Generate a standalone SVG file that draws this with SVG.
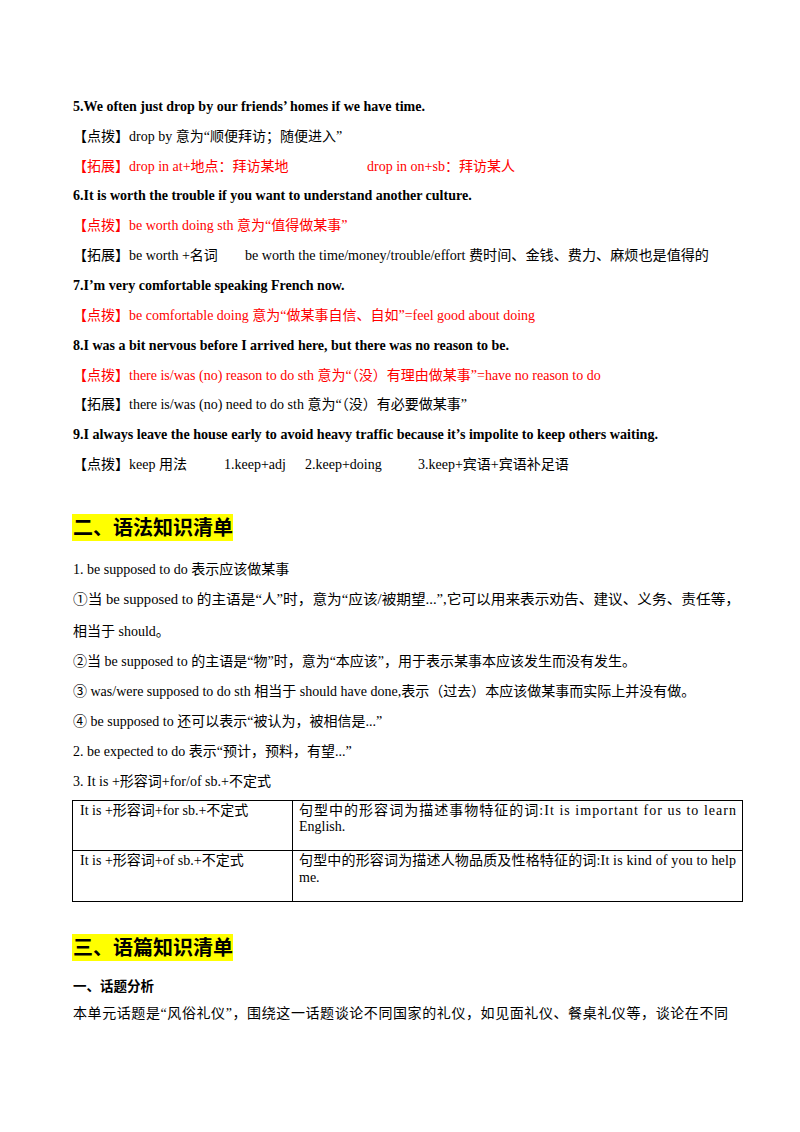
<svg xmlns="http://www.w3.org/2000/svg" width="800" height="1132" viewBox="0 0 800 1132">
<style>
text{font-family:"Liberation Serif","Noto Sans CJK SC",serif;font-size:14px;fill:#000}
.b{font-weight:bold}
.r{fill:#f00}
.h{font-size:20px;font-weight:bold;font-family:"Noto Sans CJK SC",sans-serif}
.hb{fill:#ff0}
.ln{stroke:#000;stroke-width:1;fill:none}
</style>
<rect width="800" height="1132" fill="#fff"/>
<text class="b" x="73" y="111">5.We often just drop by our friends’ homes if we have time.</text>
<text x="73" y="141">【点拨】drop by  意为“顺便拜访；随便进入”</text>
<text class="r" x="73" y="171">【拓展】drop in at+地点：拜访某地</text>
<text class="r" x="367" y="171">drop in on+sb：拜访某人</text>
<text class="b" x="73" y="200">6.It is worth the trouble if you want to understand another culture.</text>
<text class="r" x="73" y="230">【点拨】be worth doing sth 意为“值得做某事”</text>
<text x="73" y="260">【拓展】be worth +名词</text>
<text x="245" y="260" textLength="464" lengthAdjust="spacingAndGlyphs">be worth the time/money/trouble/effort 费时间、金钱、费力、麻烦也是值得的</text>
<text class="b" x="73" y="290">7.I’m very comfortable speaking French now.</text>
<text class="r" x="73" y="320">【点拨】be comfortable doing 意为“做某事自信、自如”=feel good about doing</text>
<text class="b" x="73" y="350">8.I was a bit nervous before I arrived here, but there was no reason to be.</text>
<text class="r" x="73" y="380">【点拨】there is/was (no) reason to do sth 意为“（没）有理由做某事”=have no reason to do</text>
<text x="73" y="409">【拓展】there is/was (no) need to do sth 意为“（没）有必要做某事”</text>
<text class="b" x="73" y="439" textLength="585" lengthAdjust="spacingAndGlyphs">9.I always leave the house early to avoid heavy traffic because it’s impolite to keep others waiting.</text>
<text x="73" y="469">【点拨】keep 用法</text>
<text x="224" y="469">1.keep+adj</text>
<text x="305" y="469">2.keep+doing</text>
<text x="418" y="469">3.keep+宾语+宾语补足语</text>
<g id="heading2"><rect class="hb" x="72" y="514" width="161" height="27"/><text class="h" x="73" y="535">二、语法知识清单</text></g>
<text x="73" y="574">1.  be supposed to do 表示应该做某事</text>
<text x="73" y="604" textLength="667" lengthAdjust="spacingAndGlyphs">①当 be supposed to 的主语是“人”时，意为“应该/被期望...”,它可以用来表示劝告、建议、义务、责任等，</text>
<text x="73" y="636">相当于 should。</text>
<text x="73" y="666">②当 be supposed to 的主语是“物”时，意为“本应该”，用于表示某事本应该发生而没有发生。</text>
<text x="73" y="696">③ was/were supposed to do sth 相当于 should have done,表示（过去）本应该做某事而实际上并没有做。</text>
<text x="73" y="726">④ be supposed to  还可以表示“被认为，被相信是...”</text>
<text x="73" y="756">2.  be expected to do 表示“预计，预料，有望...”</text>
<text x="73" y="786">3.  It is +形容词+for/of sb.+不定式</text>
<g id="table">
<rect class="ln" x="72.5" y="800.5" width="670" height="101"/>
<line class="ln" x1="292.5" y1="800" x2="292.5" y2="902"/>
<line class="ln" x1="72" y1="850.5" x2="743" y2="850.5"/>
<text x="80" y="815">It is +形容词+for sb.+不定式</text>
<text x="299" y="815" textLength="437" lengthAdjust="spacing">句型中的形容词为描述事物特征的词:It is important for us to learn</text>
<text x="299" y="831">English.</text>
<text x="80" y="865">It is +形容词+of sb.+不定式</text>
<text x="299" y="865" textLength="437" lengthAdjust="spacing">句型中的形容词为描述人物品质及性格特征的词:It is kind of you to help</text>
<text x="299" y="882">me.</text>
</g>
<g id="heading3"><rect class="hb" x="72" y="934" width="161" height="27"/><text class="h" x="73" y="955">三、语篇知识清单</text></g>
<text class="b" x="73" y="991" style="font-family:'Noto Sans CJK SC',sans-serif;font-size:13.5px">一、话题分析</text>
<text x="73" y="1018" textLength="655" lengthAdjust="spacing">本单元话题是“风俗礼仪”，围绕这一话题谈论不同国家的礼仪，如见面礼仪、餐桌礼仪等，谈论在不同</text>
</svg>
